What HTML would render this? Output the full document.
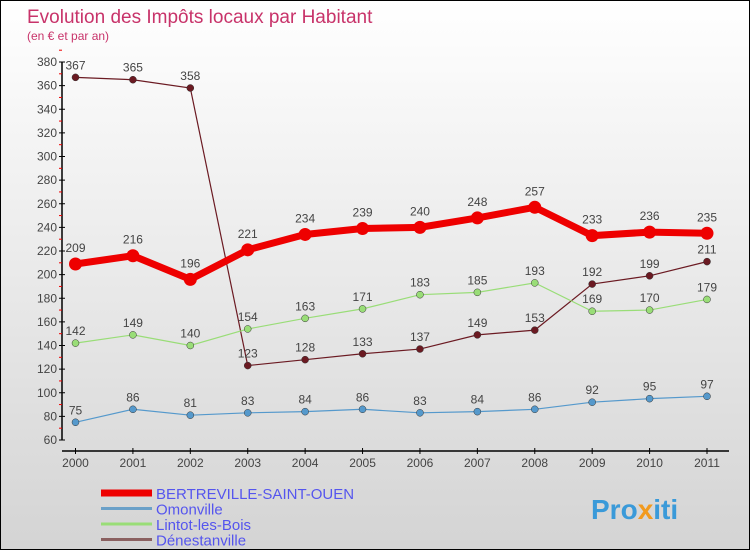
<!DOCTYPE html>
<html><head><meta charset="utf-8"><style>
body{margin:0}
#c{width:748px;height:548px;border:1px solid #000;position:relative;overflow:hidden;background:linear-gradient(#ffffff,#d4d4d4);font-family:"Liberation Sans",sans-serif}
svg{position:absolute;left:0;top:0}
</style></head><body>
<div id="c">
<svg id="s" width="748" height="548">
<text x="26" y="22" font-size="19" fill="#c8336a">Evolution des Impôts locaux par Habitant</text>
<text x="26" y="39" font-size="12" fill="#c8336a">(en € et par an)</text>
<text x="590" y="518" font-size="28" font-weight="bold" fill="#3a9ad9">Pro<tspan fill="#f29a1e">x</tspan>iti</text>
</svg>
</div>
<script>
const years=[2000,2001,2002,2003,2004,2005,2006,2007,2008,2009,2010,2011];
const yTicks=[60,80,100,120,140,160,180,200,220,240,260,280,300,320,340,360,380];
const bertreville=[209,216,196,221,234,239,240,248,257,233,236,235];
const omonville=[75,86,81,83,84,86,83,84,86,92,95,97];
const lintot=[142,149,140,154,163,171,183,185,193,169,170,179];
const denestanville=[367,365,358,123,128,133,137,149,153,192,199,211];
const names=['BERTREVILLE-SAINT-OUEN','Omonville','Lintot-les-Bois','Dénestanville'];
const s=document.getElementById('s');const NS='http://www.w3.org/2000/svg';
function X(i){return 74.5+i*(706-74.5)/11}
function Y(v){return 439-(v-60)*(439-61)/320}
function el(t,a,p){const e=document.createElementNS(NS,t);for(const k in a)e.setAttribute(k,a[k]);(p||s).appendChild(e);return e}
let ax=el('g',{});


el('line',{x1:61,y1:Y(380),x2:61,y2:Y(60),stroke:'#000','stroke-width':1.5},ax);
yTicks.forEach(v=>{el('line',{x1:58,x2:64,y1:Y(v),y2:Y(v),stroke:'#000'},ax);
 el('line',{x1:58,x2:61,y1:Y(v+10),y2:Y(v+10),stroke:'#e00'},ax);
 const t=el('text',{x:56,y:Y(v)+4,'font-size':12,fill:'#444','text-anchor':'end'},ax);t.textContent=v;});
let xa=el('g',{});


el('line',{x1:61,y1:450,x2:728,y2:450,stroke:'#000','stroke-width':1.5},xa);
years.forEach((y,i)=>{el('line',{x1:X(i),x2:X(i),y1:447,y2:453,stroke:'#000'},xa);
 const t=el('text',{x:X(i),y:466,'font-size':12,fill:'#444','text-anchor':'middle'},xa);t.textContent=y;});
const series=[[denestanville,'#6b1a22',1.2,3.5,0],[lintot,'#99dd77',1.2,3.5,1],[omonville,'#5599cc',1.2,3.5,2],[bertreville,'#ee0000',7,6.5,3]];
const lab={3:[0,0,0,0,0,0,0,0,0,0,0,0]};
series.forEach(([d,c,w,r,k])=>{
 const g=el('g',{});
 
 
 el('polyline',{points:d.map((v,i)=>X(i)+','+Y(v)).join(' '),fill:'none',stroke:c,'stroke-width':w},g);
 d.forEach((v,i)=>{const p=el('circle',{cx:X(i),cy:Y(v),r:r,fill:c,stroke:k==3?c:'#333','stroke-width':k==3?0:0.5},g);
  
  
  const t=el('text',{x:X(i),y:Y(v)-(k==3?12:8),'font-size':12,fill:'#444','text-anchor':'middle'},g);t.textContent=v;});
});
const lc=['#ee0000','#6aa0c8','#99dd77','#8a6060'],lw=[7,3,3,3];
names.forEach((n,i)=>{const g=el('g',{});
 
 
 const y=492+i*15.5;
 el('line',{x1:100,x2:151,y1:y,y2:y,stroke:lc[i],'stroke-width':lw[i]},g);
 const t=el('text',{x:155,y:y+6,'font-size':15,fill:'#5555ee'},g);t.textContent=n;});
</script>
</body></html>
